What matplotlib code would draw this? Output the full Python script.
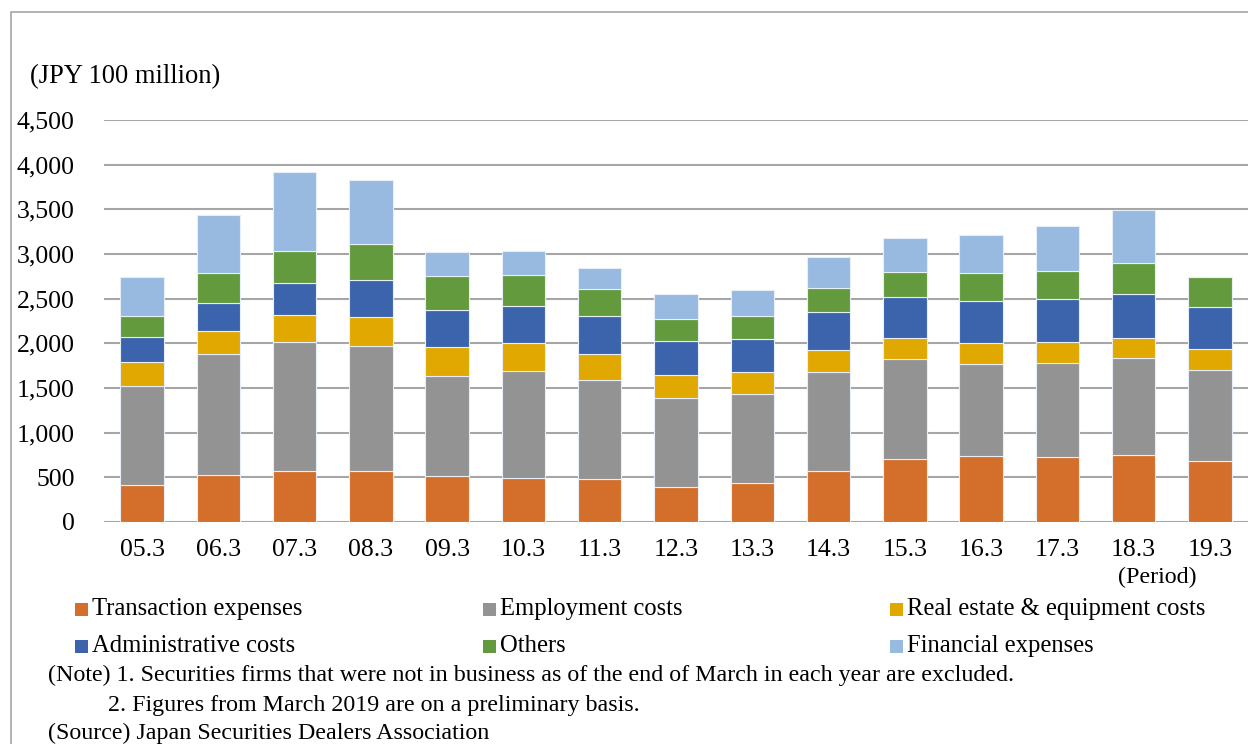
import matplotlib
matplotlib.use("Agg")
import matplotlib.pyplot as plt
from matplotlib.patches import Rectangle
import numpy as np

plt.rcParams["font.family"] = ["Liberation Serif", "DejaVu Serif"]

periods = ["05.3", "06.3", "07.3", "08.3", "09.3", "10.3", "11.3", "12.3",
           "13.3", "14.3", "15.3", "16.3", "17.3", "18.3", "19.3"]

transaction = [411, 526, 574, 574, 518, 496, 485, 392, 433, 574, 709, 735, 724, 750, 679]
employment = [1108, 1351, 1437, 1392, 1120, 1198, 1108, 1000, 1004, 1109, 1116, 1037, 1060, 1082, 1023]
real_estate = [269, 265, 303, 325, 321, 310, 288, 254, 242, 242, 238, 228, 235, 231, 235]
administrative = [286, 313, 361, 414, 418, 414, 422, 380, 373, 430, 452, 477, 474, 493, 473]
others = [235, 329, 362, 410, 377, 347, 309, 250, 258, 265, 287, 310, 320, 340, 333]
financial = [437, 649, 877, 710, 265, 269, 235, 276, 287, 347, 381, 422, 497, 597, 0]

series = [
    ("Transaction expenses", transaction, "#D36E2B"),
    ("Employment costs", employment, "#939393"),
    ("Real estate & equipment costs", real_estate, "#E0A800"),
    ("Administrative costs", administrative, "#3C64AD"),
    ("Others", others, "#639A3D"),
    ("Financial expenses", financial, "#98B9E0"),
]

W, H = 1248, 744
fig = plt.figure(figsize=(W / 100, H / 100), dpi=100)
ax = fig.add_axes([104 / W, (H - 522) / H, 1144 / W, 402 / H])

x = np.arange(len(periods))
bottom = np.zeros(len(periods))
for name, vals, color in series:
    vals = np.array(vals, dtype=float)
    ax.bar(x, vals, width=0.57, bottom=bottom, color=color,
           edgecolor="#E8EEF6", linewidth=0.8, label=name, zorder=3)
    bottom += vals

ax.set_xlim(-0.5, len(periods) - 0.5)
ax.set_ylim(0, 4500)
ax.set_yticks(np.arange(0, 4501, 500))
ax.yaxis.set_major_formatter(matplotlib.ticker.FuncFormatter(lambda v, p: f"{int(v):,}"))
ax.set_xticks(x)
ax.set_xticklabels(periods)
ax.tick_params(axis="both", length=0, labelsize=18.5, colors="black")
ax.tick_params(axis="y", pad=21)
ax.tick_params(axis="x", pad=12)

ax.grid(axis="y", color="#A6A6A6", linewidth=1.5, zorder=0)
for s in ax.spines.values():
    s.set_visible(False)

fig.text(30 / W, 1 - 77 / H, "(JPY 100 million)", fontsize=19.1, va="center", ha="left")
fig.text(1157 / W, 1 - 577 / H, "(Period)", fontsize=17.3, va="center", ha="center")

# Legend laid out as a 3 x 2 grid of colour squares and labels
col_x = [75, 483, 890]
row_y = [609, 646]
sq = 13
for i, (name, _, color) in enumerate(series):
    cx = col_x[i % 3]
    cy = row_y[i // 3]
    fig.add_artist(Rectangle((cx / W, 1 - (cy + sq / 2) / H), sq / W, sq / H,
                             transform=fig.transFigure, facecolor=color,
                             edgecolor="none"))
    fig.text((cx + sq + 4) / W, 1 - cy / H, name, fontsize=17.7,
             va="center", ha="left")

fig.text(48 / W, 1 - 675 / H,
         "(Note) 1. Securities firms that were not in business as of the end of March in each year are excluded.",
         fontsize=17.3, va="center", ha="left")
fig.text(108 / W, 1 - 705 / H,
         "2. Figures from March 2019 are on a preliminary basis.",
         fontsize=17.3, va="center", ha="left")
fig.text(48 / W, 1 - 733 / H,
         "(Source) Japan Securities Dealers Association",
         fontsize=17.3, va="center", ha="left")

fig.add_artist(Rectangle((11 / W, -0.01), 1.0, 1 - 12 / H + 0.01,
                         transform=fig.transFigure, fill=False,
                         edgecolor="#A6A6A6", linewidth=1.2))

fig.savefig("out.png", dpi=100)
